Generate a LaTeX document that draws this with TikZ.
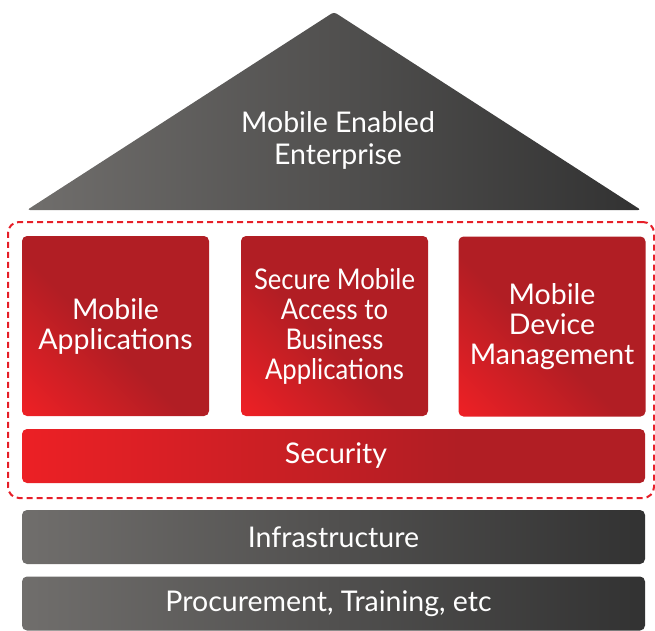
\documentclass[tikz,border=0pt]{standalone}
\usepackage{fontspec}
\setmainfont{Lato}
\definecolor{redB}{RGB}{236,32,37}
\definecolor{redD}{RGB}{177,30,36}
\definecolor{grayL}{RGB}{112,110,108}
\definecolor{grayD}{RGB}{50,50,50}
\definecolor{dashred}{RGB}{230,30,40}
\pgfdeclareverticalshading{sqshade}{100bp}{color(0bp)=(redB); color(16bp)=(redB); color(46bp)=(redD); color(100bp)=(redD)}
\pgfdeclarehorizontalshading{secshade}{100bp}{color(0bp)=(redB); color(25bp)=(redB); color(60bp)=(redD); color(100bp)=(redD)}
\begin{document}
\begin{tikzpicture}[x=1pt,y=-1pt,
  txt/.style={text=white, font=\fontsize{28.5}{30}\selectfont, align=center},
  sq/.style={txt, shade, shading=sqshade, shading angle=-45, rounded corners=5pt,
    minimum width=187pt, minimum height=180pt, inner sep=0pt},
  bar/.style={txt, rounded corners=5pt, minimum width=623pt, minimum height=54pt, inner sep=0pt},
  graybar/.style={bar, left color=grayL, right color=grayD},
  redbar/.style={bar, shade, shading=secshade},
  dashbox/.style={draw=dashred, line width=2pt, dash pattern=on 6pt off 4pt, rounded corners=11pt,
    minimum width=646pt, minimum height=276pt, inner sep=0pt}]
\useasboundingbox (0,0) rectangle (655,630);
\shade[left color=grayL, right color=grayD, rounded corners=3pt]
  (27,210) -- (334,12) -- (641,210) -- cycle;
\node[txt, font=\fontsize{28.5}{32}\selectfont] (roof) at (338,140) {Mobile Enabled\\Enterprise};
\node[dashbox] (grp) at (331,360) {};
\node[sq] (ma) at (115.5,326) {Mobile\\Applications};
\node[sq, font=\fontsize{28.5}{30}\selectfont\addfontfeature{FakeStretch=0.9}] (sm) at (334.5,326) {Secure Mobile\\Access to\\Business\\Applications};
\node[sq] (md) at (552,326.5) {Mobile\\Device\\Management};
\node[redbar] (sec) at (333.5,456) {\hspace*{5pt}Security};
\node[graybar] (inf) at (333.5,537) {Infrastructure};
\node[graybar] (pro) at (333.5,603.5) {\hspace*{-10pt}Procurement, Training, etc};
\end{tikzpicture}
\end{document}
